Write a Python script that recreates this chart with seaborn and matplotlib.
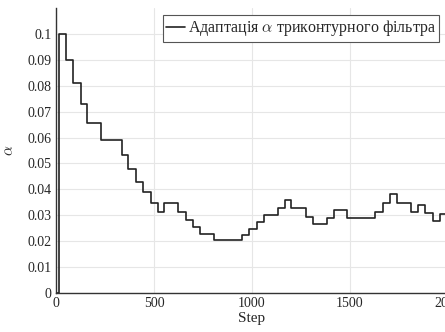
import numpy as np
import pandas as pd
import matplotlib
matplotlib.use("Agg")
import matplotlib.pyplot as plt
import seaborn as sns

# change points (step) and value held from that step on
steps = [0, 13, 49, 85, 126, 160, 230, 335, 369, 406, 445, 483, 518, 552, 624,
         661, 697, 734, 806, 950, 986, 1023, 1059, 1131, 1166, 1200, 1275, 1309,
         1384, 1418, 1487, 1630, 1669, 1703, 1740, 1812, 1848, 1882, 1921, 1958, 2000]
alpha = [0.0, 0.1, 0.09, 0.081, 0.0729, 0.0656, 0.059, 0.0532, 0.0479, 0.043,
         0.0388, 0.0349, 0.0314, 0.0348, 0.0313, 0.0280, 0.0253, 0.0228, 0.0205,
         0.0225, 0.0248, 0.0275, 0.0301, 0.0328, 0.0360, 0.0327, 0.0294, 0.0265,
         0.0291, 0.0320, 0.0288, 0.0314, 0.0347, 0.0381, 0.0347, 0.0312, 0.0341,
         0.0310, 0.0277, 0.0305, 0.0305]
xticks = [0, 500, 1000, 1500, 2000]
yticks = [0, 0.01, 0.02, 0.03, 0.04, 0.05, 0.06, 0.07, 0.08, 0.09, 0.1]
ytick_labels = ["0", "0.01", "0.02", "0.03", "0.04", "0.05", "0.06", "0.07", "0.08", "0.09", "0.1"]
legend_label = r"Адаптація $\alpha$ триконтурного фільтра"

sns.set_style("white")
plt.rcParams['font.family'] = ['Liberation Serif', 'DejaVu Serif']
plt.rcParams['mathtext.fontset'] = 'cm'

df = pd.DataFrame({"Step": steps, "alpha": alpha})

fig = plt.figure(figsize=(4.45, 3.32), dpi=100)
ax = fig.add_axes([56/445, 39/332, 392/445, 285/332])

sns.lineplot(data=df, x="Step", y="alpha", drawstyle="steps-post", color="#222222",
             linewidth=1.2, ax=ax, label=legend_label)

ax.set_xlim(0, 2000)
ax.set_ylim(0, 0.11)
ax.set_xticks(xticks)
ax.set_xticklabels([str(t) for t in xticks])
ax.set_yticks(yticks)
ax.set_yticklabels(ytick_labels)
ax.tick_params(labelsize=10, length=0, pad=3)
ax.grid(True, color="#e6e6e6", linewidth=0.8)
ax.set_axisbelow(True)
for s in ["top", "right"]:
    ax.spines[s].set_visible(False)
for s in ["left", "bottom"]:
    ax.spines[s].set_color("#333333")
    ax.spines[s].set_linewidth(1.0)

ax.set_xlabel("Step", fontsize=11, labelpad=1)
ax.set_ylabel(r"$\alpha$", fontsize=11, labelpad=8)

leg = ax.legend(loc="upper right", bbox_to_anchor=(0.977, 0.975), borderaxespad=0,
                fontsize=11.5, fancybox=False, framealpha=1, edgecolor="#555555",
                handlelength=1.2, handletextpad=0.15, borderpad=0.2)
leg.get_frame().set_linewidth(0.8)

fig.savefig("out.png", dpi=100)
